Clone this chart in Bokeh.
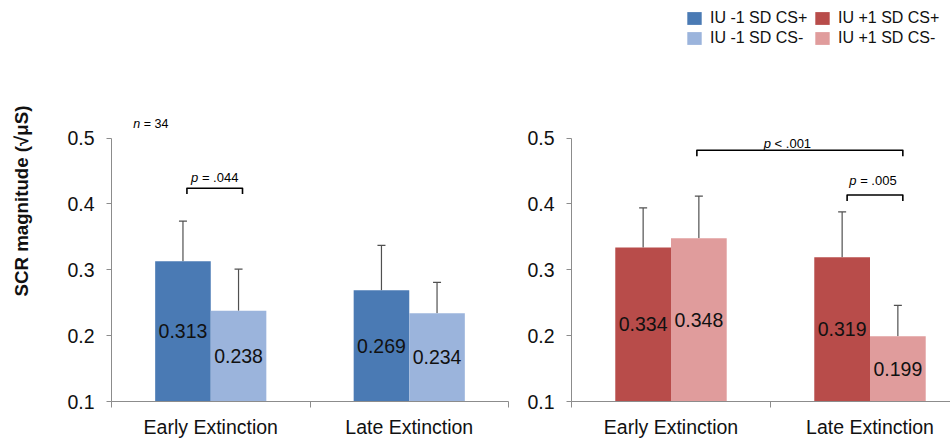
from bokeh.plotting import figure
from bokeh.models import (ColumnDataSource, FixedTicker, Whisker, TeeHead, Legend,
                          LegendItem, Range1d)
from bokeh.layouts import row
from bokeh.core.properties import value
from bokeh.embed import file_html
from bokeh.resources import INLINE

# ---------------- data ----------------
categories = ["Early Extinction", "Late Extinction"]
low_cs_plus = [0.313, 0.269]      # IU -1 SD CS+
low_cs_minus = [0.238, 0.234]     # IU -1 SD CS-
high_cs_plus = [0.334, 0.319]     # IU +1 SD CS+
high_cs_minus = [0.348, 0.199]    # IU +1 SD CS-
low_cs_plus_err = [0.374, 0.337]   # top of error bar
low_cs_minus_err = [0.301, 0.281]
high_cs_plus_err = [0.394, 0.388]
high_cs_minus_err = [0.412, 0.246]
y_ticks = [0.1, 0.2, 0.3, 0.4, 0.5]
series_names = ["IU -1 SD CS+", "IU -1 SD CS-", "IU +1 SD CS+", "IU +1 SD CS-"]

# ---------------- styling ----------------
C_LOW_P = "#4a7ab4"
C_LOW_M = "#9bb4dc"
C_HIGH_P = "#b84c4a"
C_HIGH_M = "#e09c9c"
AXIS_GREY = "#8c8c8c"
ERR_COL = "#505050"
FONT = "Liberation Sans"
BASE = 0.1
BAR_W = 0.28
H = 440
BOTTOM = 38
FRAME_H = H - BOTTOM
Y_END = 0.1 + FRAME_H / 660.0


def make_fig(width, border_left, border_right, x_end):
    p = figure(width=width, height=H, output_backend="svg", toolbar_location=None,
               x_range=Range1d(0, x_end), y_range=Range1d(BASE, Y_END),
               min_border_left=border_left, min_border_right=border_right,
               min_border_top=0, min_border_bottom=BOTTOM)
    p.outline_line_color = None
    p.grid.visible = False
    p.background_fill_color = "white"
    p.border_fill_color = "white"
    # y axis
    ya = p.yaxis[0]
    ya.ticker = FixedTicker(ticks=y_ticks, minor_ticks=[])
    ya.bounds = (0.1, 0.5)
    ya.axis_line_color = AXIS_GREY
    ya.major_tick_line_color = AXIS_GREY
    ya.major_tick_out = 5
    ya.major_tick_in = 0
    ya.minor_tick_line_color = None
    ya.minor_tick_out = 0
    ya.major_label_text_font = FONT
    ya.major_label_text_font_size = "19.5px"
    ya.major_label_text_color = "#111111"
    ya.major_label_standoff = 12
    ya.major_label_overrides = {t: f"{t:.1f}" for t in y_ticks}
    # x axis
    xa = p.xaxis[0]
    xa.ticker = FixedTicker(ticks=[0.5, 1.5], minor_ticks=[0, 1, 2])
    xa.major_label_overrides = {0.5: categories[0], 1.5: categories[1]}
    xa.axis_line_color = AXIS_GREY
    xa.major_tick_line_color = None
    xa.major_tick_out = 0
    xa.major_tick_in = 0
    xa.minor_tick_line_color = AXIS_GREY
    xa.minor_tick_out = 6
    xa.minor_tick_in = 0
    xa.major_label_text_font = FONT
    xa.major_label_text_font_size = "19.5px"
    xa.major_label_text_color = "#111111"
    xa.major_label_standoff = 8
    return p


def add_group(p, vals_p, vals_m, err_p, err_m, col_p, col_m):
    centers = [i + 0.5 for i in range(len(categories))]
    xp = [c - BAR_W / 2 for c in centers]
    xm = [c + BAR_W / 2 for c in centers]
    src_p = ColumnDataSource(dict(x=xp, top=vals_p, err=err_p,
                                  ly=[(BASE + v) / 2 for v in vals_p],
                                  lab=[f"{v:.3f}" for v in vals_p]))
    src_m = ColumnDataSource(dict(x=xm, top=vals_m, err=err_m,
                                  ly=[(BASE + v) / 2 for v in vals_m],
                                  lab=[f"{v:.3f}" for v in vals_m]))
    rp = p.vbar(x="x", top="top", bottom=BASE, width=BAR_W, source=src_p,
                fill_color=col_p, line_color=None)
    rm = p.vbar(x="x", top="top", bottom=BASE, width=BAR_W, source=src_m,
                fill_color=col_m, line_color=None)
    for s in (src_p, src_m):
        w = Whisker(base="x", lower="top", upper="err", source=s,
                    line_color=ERR_COL, line_width=1.2, lower_head=None,
                    upper_head=TeeHead(size=8, line_color=ERR_COL, line_width=1.2))
        p.add_layout(w)
        p.text(x="x", y="ly", text="lab", source=s, text_align="center",
               text_baseline="middle", text_font=value(FONT),
               text_font_size="19.5px", text_color="#111111")
    return rp, rm, xp, xm


def bracket(p, x0, x1, y, drop=0.009):
    p.line(x=[x0, x0, x1, x1], y=[y - drop, y, y, y - drop], line_color="black",
           line_width=1.6, line_join="round")


def italic_label(p, x, y, ital, rest, size_px=13.0, align="center"):
    # an italic statistic symbol followed by upright text
    ital_w = 0.556 * size_px
    space_w = 0.278 * size_px
    total_w = ital_w + space_w + (0.584 + 0.278 + 0.278 + 3 * 0.556) * size_px
    if align == "left":
        left_off = 0.0
        total_w = ital_w + space_w + (0.584 + 0.278 + 2 * 0.556) * size_px
    else:
        left_off = -total_w / 2
    size = f"{size_px}px"
    p.text(x=[x], y=[y], text=[ital], text_align="left", text_baseline="middle",
           text_font=value(FONT), text_font_style="italic", text_font_size=size,
           text_color="black", x_offset=left_off)
    p.text(x=[x], y=[y], text=[rest], text_align="left", text_baseline="middle",
           text_font=value(FONT), text_font_size=size, text_color="black",
           x_offset=left_off + ital_w + space_w)


# ---------------- left panel ----------------
left = make_fig(515, 111, 7, 2.0)
left.yaxis[0].axis_label = "SCR magnitude (\u221a\u03bcS)"
left.yaxis[0].axis_label_text_font = FONT
left.yaxis[0].axis_label_text_font_style = "bold"
left.yaxis[0].axis_label_text_font_size = "18.7px"
left.yaxis[0].axis_label_text_color = "#111111"
left.yaxis[0].axis_label_standoff = 32
_, _, lxp, lxm = add_group(left, low_cs_plus, low_cs_minus, low_cs_plus_err,
                           low_cs_minus_err, C_LOW_P, C_LOW_M)
bracket(left, lxp[0] + 0.02, lxm[0] + 0.02, 0.424)
italic_label(left, (lxp[0] + lxm[0]) / 2 + 0.02, 0.4395, "p", "= .044")
italic_label(left, 0.11, 0.521, "n", "= 34", size_px=12.5, align="left")

# ---------------- right panel ----------------
right = make_fig(435, 56, 0, 379 / 199)
rp, rm, rxp, rxm = add_group(right, high_cs_plus, high_cs_minus, high_cs_plus_err,
                             high_cs_minus_err, C_HIGH_P, C_HIGH_M)
bracket(right, rxm[0] - 0.01, rxm[1] + 0.025, 0.4816)
italic_label(right, 1.085, 0.4926, "p", "< .001")
bracket(right, rxp[1] + 0.025, rxm[1] + 0.025, 0.4137)
italic_label(right, 1.515, 0.436, "p", "= .005")

# legend proxies for the blue series (zero-height bars on the baseline)
proxy = ColumnDataSource(dict(x=lxp, top=[BASE] * len(lxp)))
lp = right.vbar(x="x", top="top", bottom=BASE, width=BAR_W, source=proxy,
                fill_color=C_LOW_P, line_color=None)
lm = right.vbar(x="x", top="top", bottom=BASE, width=BAR_W, source=proxy,
                fill_color=C_LOW_M, line_color=None)
legend = Legend(items=[LegendItem(label=series_names[0], renderers=[lp]),
                       LegendItem(label=series_names[1], renderers=[lm]),
                       LegendItem(label=series_names[2], renderers=[rp]),
                       LegendItem(label=series_names[3], renderers=[rm])],
                ncols=2, location=(114, FRAME_H - 48), orientation="vertical",
                glyph_width=18, glyph_height=16, label_standoff=7, label_width=101,
                label_height=18, spacing=2, padding=0, margin=0,
                border_line_color=None, background_fill_alpha=0,
                label_text_font=FONT, label_text_font_size="16px",
                label_text_color="#111111")
right.add_layout(legend, "center")

layout = row(left, right)
open("out.html", "w").write(file_html(layout, INLINE))
